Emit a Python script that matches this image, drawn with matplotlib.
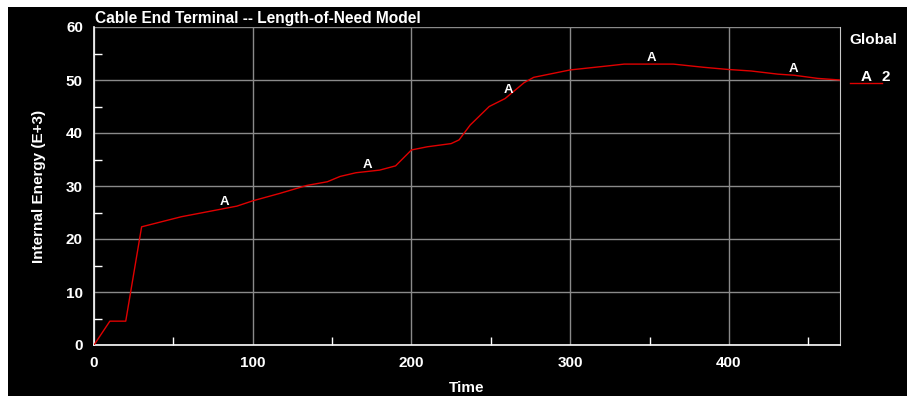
import matplotlib
matplotlib.use("Agg")
import matplotlib.pyplot as plt
import numpy as np
from matplotlib.patches import Rectangle

time = [0, 10, 20, 30, 55, 90, 100, 117, 134, 147, 155, 165, 180, 190, 200, 210,
        225, 230, 237, 249, 259, 271, 277, 300, 325, 334, 350, 365, 384, 399, 414,
        431, 441, 456, 470]
energy = [0, 4.5, 4.5, 22.3, 24.2, 26.2, 27.2, 28.6, 30.1, 30.8, 31.8, 32.5, 33.0,
          33.8, 36.8, 37.4, 38.0, 38.7, 41.5, 45.0, 46.5, 49.5, 50.5, 51.9, 52.7,
          53.0, 53.0, 53.0, 52.4, 52.0, 51.7, 51.1, 50.9, 50.3, 50.0]
marker_times = [82, 172, 261, 351, 441]
marker_label = "A"
legend_title = "Global"
series_name = "2"
x_ticks = [0, 100, 200, 300, 400]
y_ticks = [0, 10, 20, 30, 40, 50, 60]

plt.rcParams['font.family'] = ['Liberation Sans', 'DejaVu Sans']
plt.rcParams['font.weight'] = 'bold'

W, H = 907, 396
fig = plt.figure(figsize=(W / 100, H / 100), dpi=100, facecolor='white')
fig.patches.append(Rectangle((8 / W, 0), 1 - 8 / W, 1 - 7 / H, transform=fig.transFigure,
                             facecolor='black', edgecolor='none', zorder=-10))

ax = fig.add_axes([94 / W, 51 / H, (840 - 94) / W, (345 - 27) / H])
ax.set_facecolor('black')
red = '#e00000'
ax.plot(time, energy, color=red, lw=1.0, zorder=3)

for t in marker_times:
    yv = np.interp(t, time, energy)
    ax.annotate(marker_label, (t, yv), xytext=(0, 4.5), textcoords='offset points',
                ha='center', va='center', color='white', fontsize=9.5, fontweight='bold',
                zorder=4)

ax.set_xlim(0, 470)
ax.set_ylim(0, 60)
ax.set_xticks(x_ticks)
ax.set_yticks(y_ticks)
ax.set_xticks([50, 150, 250, 350, 450], minor=True)
ax.set_yticks([5, 15, 25, 35, 45, 55], minor=True)
ax.grid(True, which='major', color='#8a8a8a', lw=1.0)
ax.tick_params(which='both', direction='in', colors='white', labelcolor='white',
               labelsize=11)
ax.tick_params(which='major', length=0)
ax.tick_params(axis='x', which='major', pad=8)
ax.tick_params(axis='y', which='major', pad=8)
ax.tick_params(which='minor', length=6, width=1, color='white')
for lbl in ax.get_xticklabels() + ax.get_yticklabels():
    lbl.set_fontweight('bold')
for s in ['left', 'bottom']:
    ax.spines[s].set_color('white')
    ax.spines[s].set_linewidth(1.2)
ax.spines['right'].set_color('#c8c8c8')
ax.spines['top'].set_visible(False)

ax.set_xlabel('Time', color='white', fontsize=11, fontweight='bold', labelpad=8)
ax.set_ylabel('Internal Energy (E+3)', color='white', fontsize=11,
              fontweight='bold', labelpad=14)
ax.text(0.001, 1.003, 'Cable End Terminal -- Length-of-Need Model', transform=ax.transAxes,
        color='white', fontsize=11.2, fontweight='bold', ha='left', va='bottom')

# legend
fig.text(873 / W, 1 - 40 / H, legend_title, color='white', fontsize=11,
         fontweight='bold', ha='center', va='center')
fig.text(866 / W, 1 - 77 / H, marker_label, color='white', fontsize=11,
         fontweight='bold', ha='center', va='center')
fig.text(886 / W, 1 - 77 / H, series_name, color='white', fontsize=11,
         fontweight='bold', ha='center', va='center')
fig.add_artist(plt.Line2D([850 / W, 882 / W], [1 - 83 / H, 1 - 83 / H], color=red,
                          lw=1.0, transform=fig.transFigure))

fig.savefig('out.png', dpi=100, facecolor=fig.get_facecolor())
